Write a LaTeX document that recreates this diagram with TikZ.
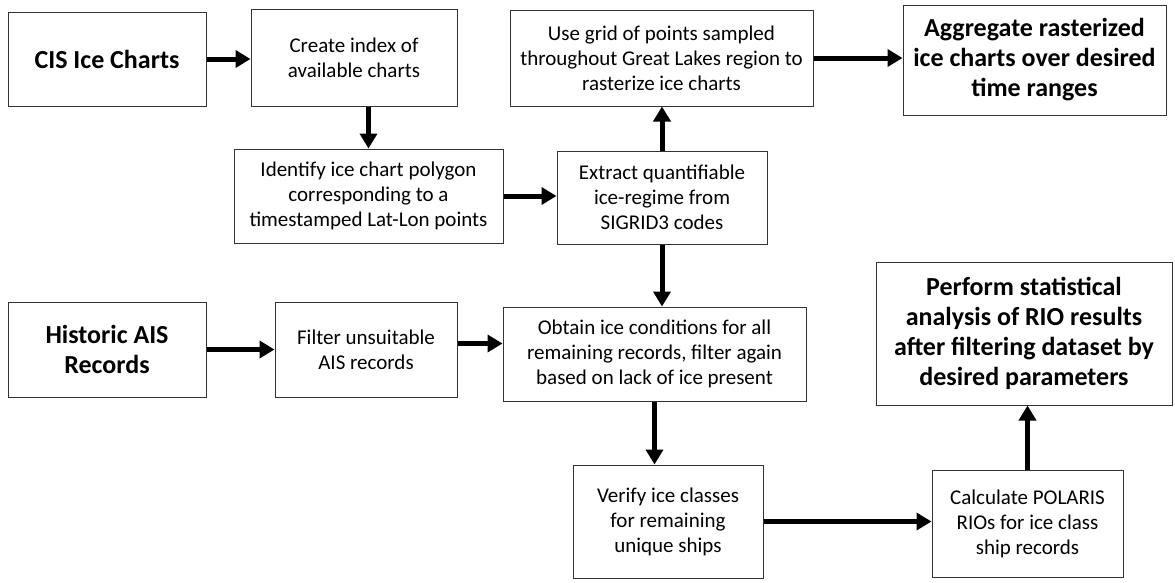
\documentclass[tikz,border=0pt]{standalone}
\usepackage{fontspec}
\setmainfont{Carlito}
\usepackage{tikz}
\usetikzlibrary{arrows.meta}

\tikzset{
    box/.style={draw=black!80, line width=1pt, align=center, inner sep=2pt, font=\fontsize{21}{25}\selectfont},
    bigbox/.style={box, font=\fontsize{26}{30}\selectfont\bfseries},
    flow/.style={line width=5pt, -{Triangle[length=15pt,width=17pt]}}
}

\begin{document}
\begin{tikzpicture}[x=1pt, y=-1pt]
    \useasboundingbox (0,0) rectangle (1175,582);

    % Ice chart branch
    \node[bigbox, minimum width=198pt, minimum height=94pt] (cis) at (107,59) {CIS Ice Charts};
    \node[box, minimum width=206pt, minimum height=97pt] (create) at (354,57.5) {Create index of\\available charts};
    \node[box, minimum width=269pt, minimum height=94pt] (ident) at (368.5,196) {Identify ice chart polygon\\corresponding to a\\timestamped Lat-Lon points};
    \node[box, minimum width=210pt, minimum height=93pt] (extract) at (662,197.5) {Extract quantifiable\\ice-regime from\\SIGRID3 codes};
    \node[box, minimum width=303pt, minimum height=96pt] (grid) at (661.5,58) {Use grid of points sampled\\throughout Great Lakes region to\\rasterize ice charts};
    \node[bigbox, minimum width=263pt, minimum height=110pt] (aggr) at (1034.5,60) {Aggregate rasterized\\ice charts over desired\\time ranges};

    % AIS branch
    \node[bigbox, minimum width=198pt, minimum height=95pt] (hist) at (107,349.5) {Historic AIS\\Records};
    \node[box, minimum width=182pt, minimum height=95pt] (filter) at (366,349.5) {Filter unsuitable\\AIS records};
    \node[box, minimum width=303pt, minimum height=94pt] (obtain) at (654.5,354) {Obtain ice conditions for all\\remaining records, filter again\\based on lack of ice present};
    \node[box, minimum width=190pt, minimum height=113pt] (verify) at (668,521.5) {Verify ice classes\\for remaining\\unique ships};
    \node[box, minimum width=191pt, minimum height=107pt] (calc) at (1027.5,523.5) {Calculate POLARIS\\RIOs for ice class\\ship records};
    \node[bigbox, minimum width=296pt, minimum height=143pt] (perform) at (1024,333.5) {Perform statistical\\analysis of RIO results\\after filtering dataset by\\desired parameters};

    % Arrows
    \draw[flow] (cis.east) -- (cis.east -| create.west);
    \draw[flow] (ident.north |- create.south) -- (ident.north);
    \draw[flow] (ident.east) -- (ident.east -| extract.west);
    \draw[flow] (extract.north) -- (extract.north |- grid.south);
    \draw[flow] (grid.east) -- (grid.east -| aggr.west);
    \draw[flow] (extract.south) -- (extract.south |- obtain.north);
    \draw[flow] (hist.east) -- (hist.east -| filter.west);
    \draw[flow] ([yshift=6pt]filter.east) -- ([yshift=6pt]filter.east -| obtain.west);
    \draw[flow] (obtain.south) -- (obtain.south |- verify.north);
    \draw[flow] (verify.east) -- (verify.east -| calc.west);
    \draw[flow] (calc.north) -- (calc.north |- perform.south);
\end{tikzpicture}
\end{document}
